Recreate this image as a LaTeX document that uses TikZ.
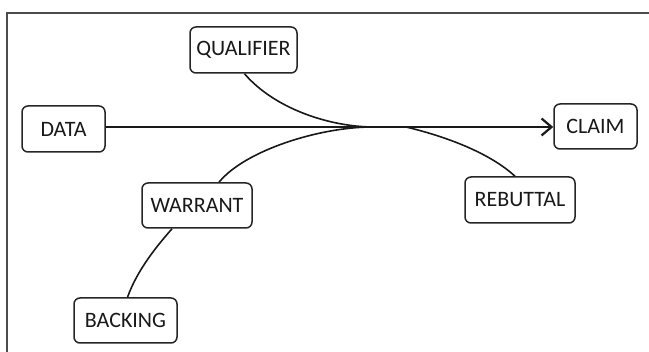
\documentclass[tikz,border=0pt]{standalone}
\usepackage{fontspec}
\setmainfont{Carlito}
\usetikzlibrary{arrows.meta}
\begin{document}
\begin{tikzpicture}[x=1pt,y=-1pt,
  box/.style={draw=black!85,line width=1.5pt,rounded corners=6pt,inner sep=0pt,font=\fontsize{22}{24}\selectfont,text=black!90},
  link/.style={draw=black!90,line width=1.6pt},
  mainarrow/.style={draw=black!90,line width=2.4pt,-{Straight Barb[length=10pt,width=17pt,line width=2.2pt]}}]
\useasboundingbox (0,0) rectangle (649,352);
\fill[white] (0,0) rectangle (649,352);
\draw[black!70,line width=1.2pt] (649,13) -- (7,13) -- (7,352);
\node[box,minimum width=107pt,minimum height=46pt] (qual) at (243.5,50) {QUALIFIER};
\node[box,minimum width=83pt,minimum height=46pt] (data) at (63.5,129) {DATA};
\node[box,minimum width=83pt,minimum height=45pt] (claim) at (595.5,126.5) {CLAIM};
\node[box,minimum width=110pt,minimum height=46pt] (rebut) at (520,200) {REBUTTAL};
\node[box,minimum width=110pt,minimum height=45pt] (warr) at (197,205.5) {WARRANT};
\node[box,minimum width=103pt,minimum height=45pt] (back) at (125.5,320.5) {BACKING};
\coordinate (qend) at (374,127);
\coordinate (wend) at (372,127);
\coordinate (rstart) at (406,127);
\draw[mainarrow] (data.east |- 0,127) -- (claim.west |- 0,127);
\draw[link] ([xshift=1pt]qual.south) .. controls +(30,35) and +(-44,0) .. (qend);
\draw[link] ([xshift=22pt]warr.north) .. controls +(26,-32) and +(-52,0) .. (wend);
\draw[link] (rstart) .. controls +(38,9) and +(-26,-24) .. ([xshift=-5pt]rebut.north);
\draw[link] ([xshift=-25pt]warr.south) .. controls +(-14,16) and +(10,-28) .. ([xshift=2pt]back.north);
\end{tikzpicture}
\end{document}
